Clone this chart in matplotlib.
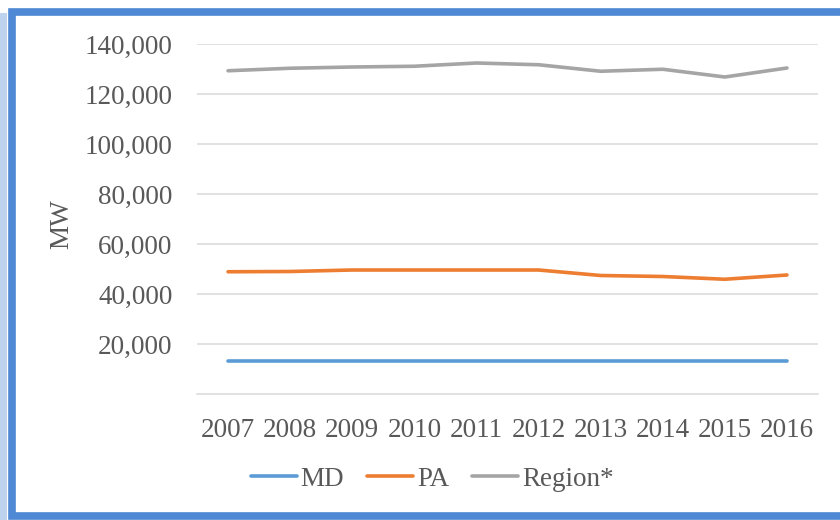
import matplotlib
matplotlib.use("Agg")
import matplotlib.pyplot as plt
from matplotlib.patches import Rectangle
from matplotlib.ticker import FuncFormatter

years = ["2007", "2008", "2009", "2010", "2011", "2012", "2013", "2014", "2015", "2016"]
md = [13300, 13300, 13300, 13300, 13300, 13300, 13300, 13300, 13300, 13300]
pa = [48900, 49000, 49600, 49600, 49600, 49600, 47400, 47000, 45900, 47600]
region = [129300, 130300, 130800, 131100, 132400, 131700, 129100, 129900, 126800, 130400]

plt.rcParams['font.family'] = ['Liberation Serif', 'DejaVu Serif']

W, H = 840, 520
fig = plt.figure(figsize=(W / 100, H / 100), dpi=100)
fig.patch.set_facecolor('white')

# frame decorations
fig.patches.append(Rectangle((0, 0), 7 / W, (H - 13) / H, transform=fig.transFigure,
                             facecolor='#BDD3EE', edgecolor='none', zorder=-3))
fig.patches.append(Rectangle((11.5 / W, 4 / H), 1.2, (H - 4 - 12) / H, transform=fig.transFigure,
                             facecolor='white', edgecolor='#4F88D4', linewidth=5.5, zorder=-2))

ax = fig.add_axes([197 / W, (H - 394) / H, (818 - 197) / W, (394 - 44) / H])
ax.set_zorder(1)
ax.set_facecolor('none')
x = list(range(len(years)))
ax.plot(x, md, color='#5B9BD5', lw=2.6, solid_capstyle='round', label='MD', zorder=3)
ax.plot(x, pa, color='#ED7D31', lw=2.6, solid_capstyle='round', label='PA', zorder=3)
ax.plot(x, region, color='#A5A5A5', lw=2.6, solid_capstyle='round', label='Region*', zorder=3)

ax.set_xlim(-0.5, len(years) - 0.5)
ax.set_ylim(0, 140000)
ax.set_yticks(range(20000, 140001, 20000))
ax.yaxis.set_major_formatter(FuncFormatter(lambda v, p: f"{int(v):,}"))
ax.set_xticks(x)
ax.set_xticklabels(years)
ax.grid(axis='y', color='#D9D9D9', lw=1.1)
ax.set_axisbelow(True)
for s in ['top', 'right', 'left']:
    ax.spines[s].set_visible(False)
ax.spines['bottom'].set_color('#D9D9D9')
ax.spines['bottom'].set_linewidth(1.1)
ax.tick_params(axis='both', length=0, labelsize=19.5, labelcolor='#595959')
ax.tick_params(axis='y', pad=17.5)
ax.tick_params(axis='x', pad=17)

fig.text(62 / W, (H - 224) / H, 'MW', rotation=90, ha='center', va='center',
         fontsize=19.5, color='#595959')

leg = fig.legend(loc='center', bbox_to_anchor=(432 / W, (H - 479) / H), ncol=3,
                 frameon=False, fontsize=19.5, handlelength=1.7, handletextpad=0.14,
                 columnspacing=0.85, labelcolor='#595959')
leg.set_zorder(2)

fig.savefig('out.png', dpi=100, facecolor='white')
